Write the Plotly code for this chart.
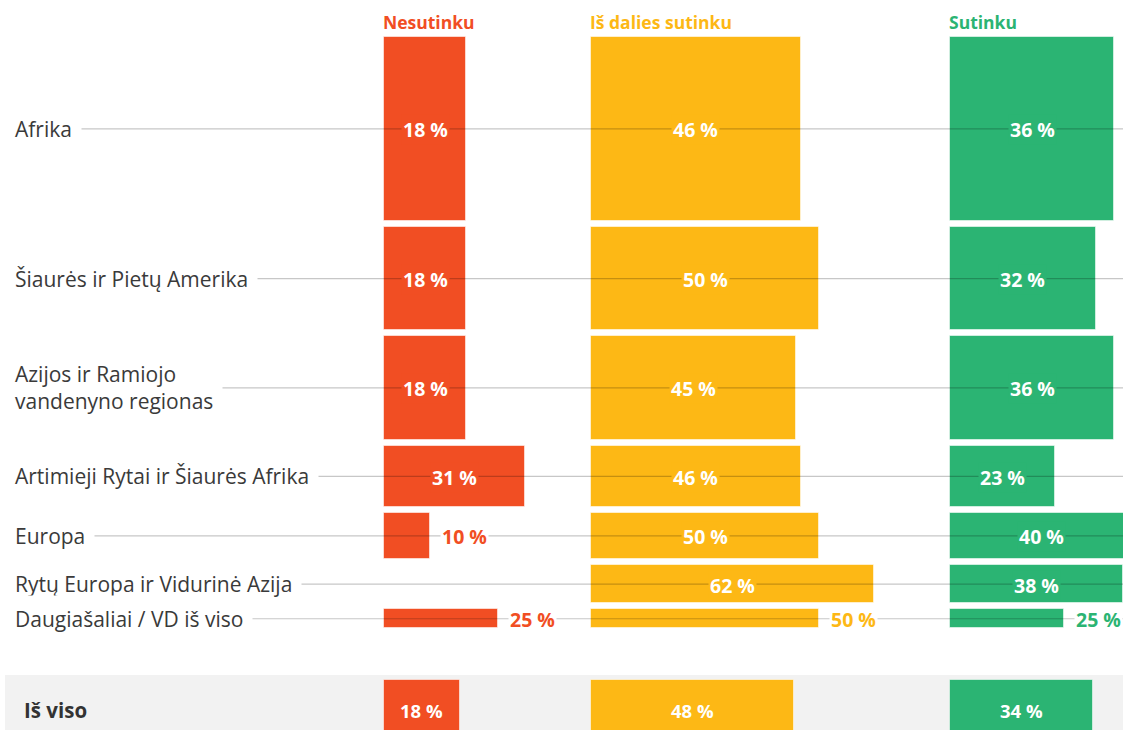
import plotly.graph_objects as go

# ---------------- data ----------------
regions = [
    "Afrika",
    "Šiaurės ir Pietų Amerika",
    "Azijos ir Ramiojo<br>vandenyno regionas",
    "Artimieji Rytai ir Šiaurės Afrika",
    "Europa",
    "Rytų Europa ir Vidurinė Azija",
    "Daugiašaliai / VD iš viso",
]
respondents = [48, 27, 27, 16, 12, 10, 5]          # row weight (bar thickness)
answers = ["Nesutinku", "Iš dalies sutinku", "Sutinku"]
nesutinku = [18, 18, 18, 31, 10, None, 25]
is_dalies = [46, 50, 45, 46, 50, 62, 50]
sutinku = [36, 32, 36, 23, 40, 38, 25]
total_label = "Iš viso"
total_values = [18, 48, 34]

# ---------------- style / layout ----------------
W, H = 1123, 730
colors = ["#F14E23", "#FDB815", "#2BB473"]
PX_PER_PCT = 4.56          # horizontal scale of region rows
PX_PER_PCT_TOTAL = 4.22    # horizontal scale of total row
PX_PER_RESP = 3.83         # vertical scale
col_left_px = [384, 591, 950]
top_px, gap_px = 37, 6
total_top_px, total_h_px = 680, 60
FONT = "Open Sans"

yr = H / PX_PER_RESP
def ypx(p):
    return p / PX_PER_RESP

# row centres (in respondent units)
centers, cur = [], ypx(top_px)
for r in respondents:
    centers.append(cur + r / 2)
    cur += r + ypx(gap_px)
total_center = ypx(total_top_px + total_h_px / 2)
total_thick = ypx(total_h_px)

series = [nesutinku, is_dalies, sutinku]
fig = go.Figure()
annotations = []
shapes = []

# grey band for totals
shapes.append(dict(type="rect", xref="paper", yref="y", x0=5 / W, x1=1,
                   y0=ypx(675), y1=yr + 5, fillcolor="#F2F2F2",
                   line=dict(width=0), layer="below"))

for ci, (vals, col) in enumerate(zip(series, colors)):
    base = col_left_px[ci] / PX_PER_PCT
    xs, ys, ws = [], [], []
    for v, c, r in zip(vals, centers, respondents):
        if v is None:
            continue
        xs.append(v); ys.append(c); ws.append(r)
        wpx, hpx = v * PX_PER_PCT, r * PX_PER_RESP
        if wpx < 60 or hpx < 25:
            annotations.append(dict(x=base + v, y=c, xref="x", yref="y",
                                    text=f"<b>{v} %</b>", showarrow=False,
                                    xanchor="left", xshift=10, yshift=-1,
                                    bgcolor="white", borderpad=1,
                                    font=dict(family=FONT, size=19.5, color=col)))
        else:
            annotations.append(dict(x=base + v / 2, y=c, xref="x", yref="y",
                                    text=f"<b>{v} %</b>", showarrow=False,
                                    xanchor="center", yshift=-1,
                                    bgcolor=col, borderpad=1,
                                    font=dict(family=FONT, size=19.5, color="white")))
    fig.add_trace(go.Bar(orientation="h", x=xs, y=ys, width=ws,
                         base=[base] * len(xs), marker=dict(color=col,
                         line=dict(color="rgba(255,255,255,0.55)", width=1)),
                         hoverinfo="skip", showlegend=False, name=answers[ci],
                         xaxis="x", yaxis="y"))
    # header
    annotations.append(dict(x=col_left_px[ci] / W - 3 / W, y=ypx(22), xref="paper", yref="y",
                            text=f"<b>{answers[ci]}</b>", showarrow=False,
                            xanchor="left", yanchor="middle",
                            font=dict(family=FONT, size=17.5, color=col)))
    # total row
    tbase = col_left_px[ci] / PX_PER_PCT_TOTAL
    tv = total_values[ci]
    fig.add_trace(go.Bar(orientation="h", x=[tv], y=[total_center], width=[total_thick],
                         base=[tbase], marker=dict(color=col,
                         line=dict(color="rgba(255,255,255,0.55)", width=1)),
                         hoverinfo="skip", showlegend=False, name=answers[ci],
                         xaxis="x2", yaxis="y"))
    annotations.append(dict(x=tbase + tv / 2, y=total_center, xref="x2", yref="y",
                            text=f"<b>{tv} %</b>", showarrow=False,
                            font=dict(family=FONT, size=18.5, color="white")))

# region labels and guide lines
for name, c in zip(regions, centers):
    shapes.append(dict(type="line", xref="paper", yref="y", x0=15 / W, x1=1,
                       y0=c, y1=c, line=dict(color="rgba(0,0,0,0.22)", width=1.2),
                       layer="above"))
    annotations.append(dict(x=15 / W, y=c, xref="paper", yref="y", text=name,
                            showarrow=False, xanchor="left", align="left",
                            bgcolor="white", borderpad=9, xshift=-10,
                            font=dict(family=FONT, size=21, color="#3A3A3A")))

annotations.append(dict(x=22 / W, y=total_center, xref="paper", yref="y",
                        text=f"<b>{total_label}</b>", showarrow=False,
                        xanchor="left", font=dict(family=FONT, size=20.5, color="#333333")))

fig.update_layout(
    width=W, height=H, margin=dict(l=0, r=0, t=0, b=0),
    paper_bgcolor="white", plot_bgcolor="rgba(0,0,0,0)",
    barmode="overlay", bargap=0,
    xaxis=dict(range=[0, W / PX_PER_PCT], visible=False, fixedrange=True),
    xaxis2=dict(range=[0, W / PX_PER_PCT_TOTAL], visible=False, overlaying="x",
                fixedrange=True),
    yaxis=dict(range=[yr, 0], visible=False, fixedrange=True),
    shapes=shapes, annotations=annotations,
)
fig.write_html("out.html", config={"displayModeBar": False},
               post_script="document.body.style.margin='0';document.body.style.overflow='hidden';")
